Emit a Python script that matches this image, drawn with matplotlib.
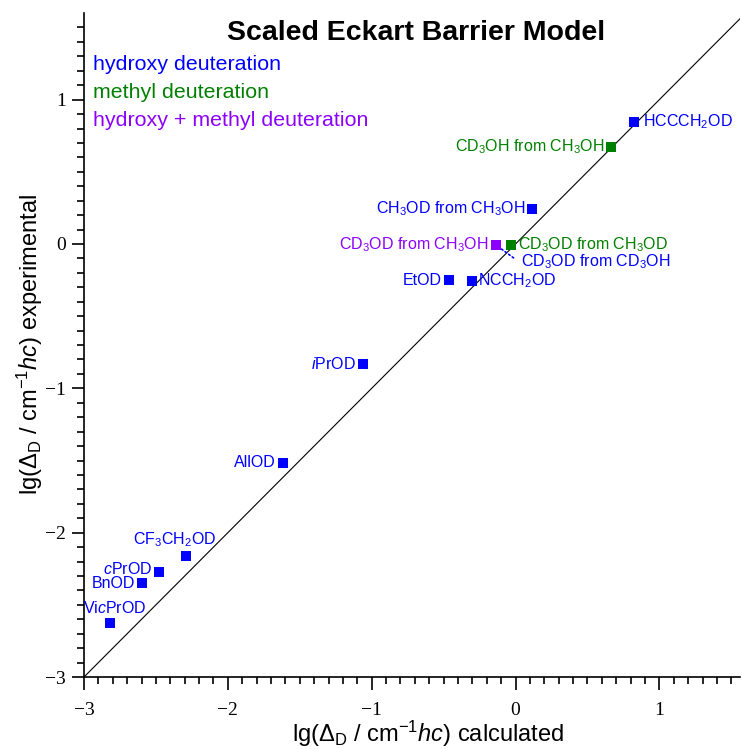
import matplotlib
matplotlib.use('Agg')
import matplotlib.pyplot as plt

plt.rcParams['font.family'] = 'Liberation Sans'
plt.rcParams['mathtext.fontset'] = 'custom'
plt.rcParams['mathtext.rm'] = 'Liberation Sans'
plt.rcParams['mathtext.it'] = 'Liberation Sans:italic'
plt.rcParams['mathtext.bf'] = 'Liberation Sans:bold'

BLUE = '#0000ff'
GREEN = '#008000'
PURPLE = '#8c00ff'

# data
labels = [r'HCCCH$_2$OD', r'CD$_3$OH from CH$_3$OH', r'CH$_3$OD from CH$_3$OH',
          r'CD$_3$OD from CD$_3$OH', r'CD$_3$OD from CH$_3$OH', r'CD$_3$OD from CH$_3$OD',
          'EtOD', r'NCCH$_2$OD', r'$\it{i}$PrOD', 'AllOD', r'CF$_3$CH$_2$OD',
          r'$\it{c}$PrOD', 'BnOD', r'Vi$\it{c}$PrOD']
calc = [0.826, 0.667, 0.118, -0.139, -0.139, -0.028,
        -0.465, -0.306, -1.063, -1.618, -2.292, -2.479, -2.597, -2.819]
expt = [0.847, 0.674, 0.243, -0.005, -0.005, -0.005,
        -0.25, -0.257, -0.833, -1.514, -2.16, -2.271, -2.347, -2.625]
group = ['OH', 'Me', 'OH', 'OH', 'both', 'Me',
         'OH', 'OH', 'OH', 'OH', 'OH', 'OH', 'OH', 'OH']

colors = {'OH': BLUE, 'Me': GREEN, 'both': PURPLE}

# label placement: offset in points, ha, va
place = [(6, 0, 'left', 'center'), (-5, 0, 'right', 'center'), (-5, 0, 'right', 'center'),
         (18, -12.5, 'left', 'center'), (-5, 0, 'right', 'center'), (5, 0, 'left', 'center'),
         (-5, 0, 'right', 'center'), (5, 0, 'left', 'center'), (-5, 0, 'right', 'center'),
         (-5, 0, 'right', 'center'), (22, 5, 'right', 'bottom'), (-5, 1.8, 'right', 'center'),
         (-5, -0.5, 'right', 'center'), (26, 5, 'right', 'bottom')]

fig = plt.figure(figsize=(7.42, 7.49), dpi=100)
ax = fig.add_axes([0.1132, 0.0961, 0.884, 0.8865])

ax.plot([-3, 2], [-3, 2], color='black', lw=0.8, zorder=1)

# dotted connector for the hidden point
ax.annotate('', (calc[3], expt[3]), xytext=(13, -9.5), textcoords='offset points',
            arrowprops=dict(arrowstyle='-', color=BLUE, ls=':', lw=1.2, shrinkA=0, shrinkB=0),
            zorder=2)

for i in range(len(labels)):
    c = colors[group[i]]
    ax.plot(calc[i], expt[i], 's', color=c, ms=6.5, mew=0, zorder=3)
    dx, dy, ha, va = place[i]
    ax.annotate(labels[i], (calc[i], expt[i]), xytext=(dx, dy), textcoords='offset points',
                ha=ha, va=va, color=c, fontsize=11.5)

ax.text(0.506, 0.959, 'Scaled Eckart Barrier Model', transform=ax.transAxes,
        ha='center', va='baseline', fontsize=20.5, fontweight='bold')
ax.text(0.0137, 0.914, 'hydroxy deuteration', transform=ax.transAxes, color=BLUE,
        fontsize=15.4, va='baseline')
ax.text(0.0137, 0.872, 'methyl deuteration', transform=ax.transAxes, color=GREEN,
        fontsize=15.4, va='baseline')
ax.text(0.0137, 0.830, 'hydroxy + methyl deuteration', transform=ax.transAxes, color=PURPLE,
        fontsize=15.4, va='baseline')

ax.set_xlim(-3, 1.56)
ax.set_ylim(-3, 1.6)
ax.set_xticks([-3, -2, -1, 0, 1])
ax.set_yticks([-3, -2, -1, 0, 1])
ax.set_xticks([v / 10 for v in range(-30, 16)], minor=True)
ax.set_yticks([v / 10 for v in range(-30, 16)], minor=True)
for s in ['top', 'right']:
    ax.spines[s].set_visible(False)
for s in ['left', 'bottom']:
    ax.spines[s].set_linewidth(1.2)
ax.tick_params(which='major', direction='out', length=9, width=1.2)
ax.tick_params(which='minor', direction='out', length=5, width=1.2)
ax.tick_params(axis='x', which='major', pad=9)
ax.tick_params(axis='y', which='major', pad=4)
for t in ax.get_xticklabels() + ax.get_yticklabels():
    t.set_fontfamily('Liberation Serif')
    t.set_fontsize(14)

ax.set_xlabel(r'lg($\Delta_\mathrm{D}$ / cm$^{-1}$$\it{hc}$) calculated', fontsize=17)
ax.set_ylabel(r'lg($\Delta_\mathrm{D}$ / cm$^{-1}$$\it{hc}$) experimental', fontsize=17)
ax.xaxis.set_label_coords(0.524, -0.063)
ax.yaxis.set_label_coords(-0.06, 0.5)

fig.savefig('out.png', dpi=100)
